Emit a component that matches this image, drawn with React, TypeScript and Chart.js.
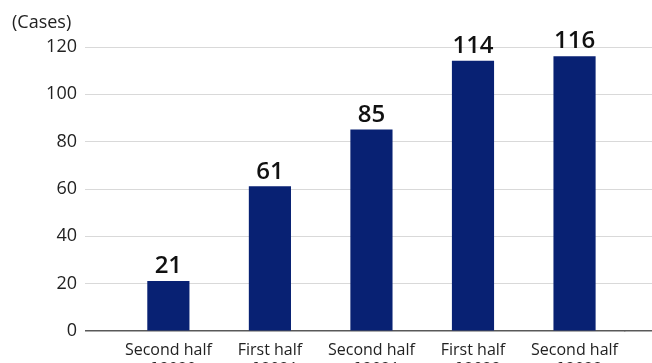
import React, { useEffect, useRef } from "react";
import { Chart, registerables } from "chart.js";

Chart.register(...registerables);

const categories: string[][] = [
  ["Second half", "of 2020"],
  ["First half", "of 2021"],
  ["Second half", "of 2021"],
  ["First half", "of 2022"],
  ["Second half", "of 2022"],
];
const cases: number[] = [21, 61, 85, 114, 116];
const yTicks = { min: 0, max: 120, step: 20 };
const unitLabel = "(Cases)";

const FONT = "'Open Sans', 'Noto Sans', sans-serif";
const BAR_COLOR = "#082173";
const GRID = "#d9d9d9";
const BASE = "#595959";

function align(p: number, w: number) {
  const h = w / 2;
  return Math.round(p - h) + h;
}

export default function App() {
  const ref = useRef<HTMLCanvasElement | null>(null);

  useEffect(() => {
    document.body.style.margin = "0";
    const canvas = ref.current!;
    const extras = {
      id: "extras",
      afterDraw(chart: any) {
        const ctx = chart.ctx;
        const area = chart.chartArea;
        const y = chart.scales.y;
        ctx.save();
        y.ticks.forEach((t: any) => {
          const lw = t.value === 0 ? 1.5 : 1;
          const py = align(y.getPixelForValue(t.value), lw);
          ctx.beginPath();
          ctx.strokeStyle = t.value === 0 ? BASE : GRID;
          ctx.lineWidth = lw;
          ctx.moveTo(area.right - 1, py);
          ctx.lineTo(chart.width, py);
          ctx.stroke();
        });
        const meta = chart.getDatasetMeta(0);
        ctx.fillStyle = "#111";
        ctx.font = `600 24px ${FONT}`;
        ctx.textAlign = "center";
        ctx.textBaseline = "alphabetic";
        meta.data.forEach((el: any, i: number) => {
          ctx.fillText(String(cases[i]), el.x, el.y - 8);
        });
        ctx.font = `18px ${FONT}`;
        ctx.fillStyle = "#222";
        ctx.textAlign = "left";
        ctx.textBaseline = "middle";
        ctx.fillText(unitLabel, 12, 23);
        ctx.restore();
      },
    };

    const chart = new Chart(canvas, {
      type: "bar",
      data: {
        labels: categories,
        datasets: [
          {
            data: cases,
            backgroundColor: BAR_COLOR,
            borderWidth: 0,
            barThickness: 41.5,
          },
        ],
      },
      options: {
        animation: false,
        responsive: false,
        layout: { padding: { top: 47, right: 26.7, left: 0, bottom: 0 } },
        plugins: { legend: { display: false }, tooltip: { enabled: false } },
        scales: {
          x: {
            grid: { display: false },
            border: { display: false },
            ticks: {
              color: "#222",
              font: { family: FONT, size: 16 },
              maxRotation: 0,
              autoSkip: false,
              padding: 2,
            },
            afterFit: (s: any) => {
              s.height = 32;
            },
          },
          y: {
            min: yTicks.min,
            max: yTicks.max,
            border: { display: false },
            grid: {
              color: (c: any) => (c.tick && c.tick.value === 0 ? BASE : GRID),
              lineWidth: (c: any) => (c.tick && c.tick.value === 0 ? 1.5 : 1),
              drawTicks: true,
              tickLength: 32.6,
            },
            ticks: {
              stepSize: yTicks.step,
              color: "#222",
              font: { family: FONT, size: 18 },
              padding: 8,
            },
            afterFit: (s: any) => {
              s.width = 117.6;
            },
          },
        },
      },
      plugins: [extras],
    } as any);
    return () => chart.destroy();
  }, []);

  return <canvas ref={ref} width={652} height={363} style={{ display: "block" }} />;
}
